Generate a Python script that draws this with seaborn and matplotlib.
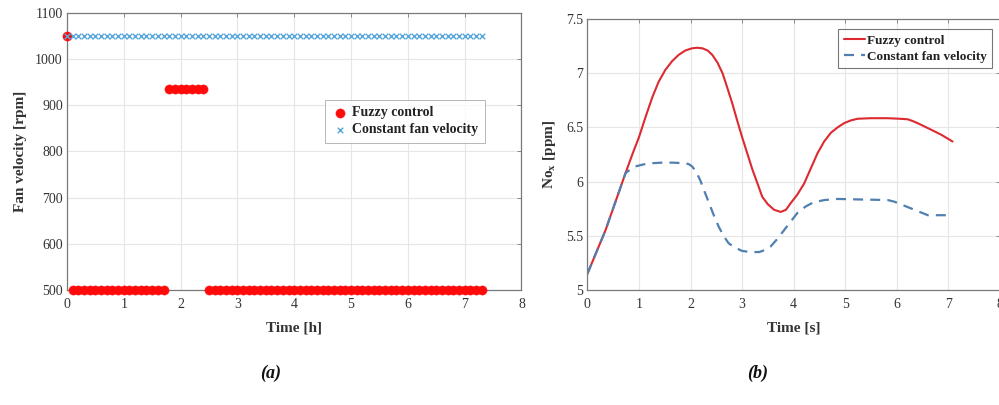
import matplotlib
matplotlib.use("Agg")
import matplotlib.pyplot as plt
import seaborn as sns
import pandas as pd

# ---------------- data ----------------
time_h = [0.0, 0.1, 0.2, 0.3, 0.4, 0.5, 0.6, 0.7, 0.8, 0.9,
          1.0, 1.1, 1.2, 1.3, 1.4, 1.5, 1.6, 1.7, 1.8, 1.9,
          2.0, 2.1, 2.2, 2.3, 2.4, 2.5, 2.6, 2.7, 2.8, 2.9,
          3.0, 3.1, 3.2, 3.3, 3.4, 3.5, 3.6, 3.7, 3.8, 3.9,
          4.0, 4.1, 4.2, 4.3, 4.4, 4.5, 4.6, 4.7, 4.8, 4.9,
          5.0, 5.1, 5.2, 5.3, 5.4, 5.5, 5.6, 5.7, 5.8, 5.9,
          6.0, 6.1, 6.2, 6.3, 6.4, 6.5, 6.6, 6.7, 6.8, 6.9,
          7.0, 7.1, 7.2, 7.3]
fuzzy_rpm = [1050] + [500] * 17 + [935] * 7 + [500] * 49
constant_rpm = [1050] * 74

nox_t_fuzzy = [0.0, 0.35, 0.74, 0.87, 1.0, 1.13, 1.26, 1.38, 1.51, 1.64,
               1.77, 1.9, 2.03, 2.13, 2.23, 2.33, 2.42, 2.52, 2.62, 2.71,
               2.81, 2.9, 3.0, 3.1, 3.2, 3.3, 3.39, 3.5, 3.62, 3.75,
               3.85, 3.94, 4.07, 4.2, 4.33, 4.46, 4.59, 4.72, 4.85, 4.98,
               5.11, 5.24, 5.5, 5.82, 6.05, 6.21, 6.3, 6.4, 6.53, 6.66,
               6.87, 7.08]
nox_fuzzy = [5.15, 5.55, 6.08, 6.25, 6.41, 6.60, 6.78, 6.92, 7.03, 7.11,
             7.17, 7.21, 7.23, 7.235, 7.23, 7.21, 7.17, 7.10, 7.00, 6.87,
             6.72, 6.57, 6.41, 6.26, 6.11, 5.98, 5.86, 5.79, 5.74, 5.72,
             5.74, 5.80, 5.88, 5.98, 6.12, 6.26, 6.37, 6.45, 6.50, 6.54,
             6.565, 6.58, 6.585, 6.585, 6.58, 6.575, 6.56, 6.54, 6.51, 6.48,
             6.43, 6.37]

nox_t_const = [0.0, 0.35, 0.74, 0.83, 0.93, 1.1, 1.26, 1.45, 1.64, 1.9,
               1.97, 2.03, 2.11, 2.19, 2.27, 2.36, 2.45, 2.55, 2.64, 2.74,
               2.87, 3.0, 3.17, 3.33, 3.45, 3.55, 3.68, 3.81, 3.94, 4.07,
               4.23, 4.39, 4.6, 4.85, 5.3, 5.82, 5.95, 6.08, 6.21, 6.34,
               6.47, 6.6, 6.8, 7.08]
nox_const = [5.15, 5.55, 6.08, 6.11, 6.14, 6.16, 6.17, 6.175, 6.175, 6.17,
             6.16, 6.14, 6.09, 6.01, 5.91, 5.80, 5.69, 5.58, 5.50, 5.43,
             5.39, 5.36, 5.35, 5.35, 5.37, 5.40, 5.47, 5.55, 5.63, 5.71,
             5.77, 5.81, 5.83, 5.84, 5.835, 5.83, 5.815, 5.79, 5.765, 5.74,
             5.715, 5.69, 5.69, 5.69]

left_xticks = [0, 1, 2, 3, 4, 5, 6, 7, 8]
left_yticks = [500, 600, 700, 800, 900, 1000, 1100]
right_xticks = [0, 1, 2, 3, 4, 5, 6, 7, 8]
right_yticks = [5, 5.5, 6, 6.5, 7, 7.5]
right_yticklabels = ["5", "5.5", "6", "6.5", "7", "7.5"]

# ---------------- style ----------------
sns.set_theme(style="whitegrid")
plt.rcParams['font.family'] = ['Liberation Serif', 'DejaVu Serif']
plt.rcParams['mathtext.fontset'] = 'stix'

RED = '#ff0a0a'
LBLUE = '#5aa7dc'
LINE_RED = '#dc2a30'
DASH_BLUE = '#5080b0'
GRID = '#e6e6e6'
SPINE = '#7a7a7a'

fig = plt.figure(figsize=(9.99, 4.05), dpi=100)
ax1 = fig.add_axes([0.067, 0.284, 0.455, 0.684])
ax2 = fig.add_axes([0.588, 0.284, 0.413, 0.669])

def style_axes(ax):
    ax.set_facecolor('white')
    ax.grid(True, color=GRID, linewidth=0.8)
    for s in ax.spines.values():
        s.set_color(SPINE)
        s.set_linewidth(0.9)
        s.set_visible(True)
    ax.tick_params(direction='in', length=3, width=0.6, color=SPINE,
                   top=True, right=True, labelsize=10, pad=3,
                   labelcolor='#333333')
    ax.tick_params(axis='x', pad=6)

# ---------------- left panel ----------------
df_f = pd.DataFrame({'t': time_h, 'v': fuzzy_rpm})
df_c = pd.DataFrame({'t': time_h, 'v': constant_rpm})
sns.scatterplot(data=df_f, x='t', y='v', ax=ax1, color=RED, marker='o',
                s=44, edgecolor=RED, linewidth=0.3, label='Fuzzy control',
                zorder=3, clip_on=False)
sns.scatterplot(data=df_c, x='t', y='v', ax=ax1, color=LBLUE, marker='x',
                s=16, linewidth=1.0, label='Constant fan velocity', zorder=4,
                clip_on=False)
ax1.set_xlim(0, 8)
ax1.set_ylim(500, 1100)
ax1.set_xticks(left_xticks)
ax1.set_yticks(left_yticks)
style_axes(ax1)
ax1.set_xlabel('Time [h]', fontsize=11, fontweight='bold', color='#333333',
               labelpad=7)
ax1.set_ylabel('Fan velocity [rpm]', fontsize=11, fontweight='bold',
               color='#333333', labelpad=6)
leg1 = ax1.legend(loc='upper left', bbox_to_anchor=(0.568, 0.686),
                  fontsize=10, frameon=True, fancybox=False,
                  handletextpad=0.3, borderpad=0.45, labelspacing=0.3,
                  handlelength=1.2, borderaxespad=0)
leg1.get_frame().set_edgecolor('#999999')
leg1.get_frame().set_linewidth(0.6)
for t in leg1.get_texts():
    t.set_fontweight('bold')
    t.set_color('#222222')

# ---------------- right panel ----------------
df_nf = pd.DataFrame({'t': nox_t_fuzzy, 'v': nox_fuzzy})
df_nc = pd.DataFrame({'t': nox_t_const, 'v': nox_const})
sns.lineplot(data=df_nf, x='t', y='v', ax=ax2, color=LINE_RED, linewidth=1.5,
             label='Fuzzy control', sort=False, solid_joinstyle='round')
sns.lineplot(data=df_nc, x='t', y='v', ax=ax2, color=DASH_BLUE, linewidth=1.6,
             label='Constant fan velocity', sort=False, dashes=False)
ax2.lines[1].set_dashes([4.5, 3.2])
ax2.set_xlim(0, 8)
ax2.set_ylim(5, 7.5)
ax2.set_xticks(right_xticks)
ax2.set_yticks(right_yticks)
ax2.set_yticklabels(right_yticklabels)
style_axes(ax2)
ax2.set_xlabel('Time [s]', fontsize=11, fontweight='bold', color='#333333',
               labelpad=7)
ax2.set_ylabel(r'No$_{\mathbf{x}}$ [ppm]', fontsize=11, fontweight='bold',
               color='#333333', labelpad=6)
leg2 = ax2.legend(loc='upper right', bbox_to_anchor=(0.9816, 0.963),
                  fontsize=9.5, frameon=True, fancybox=False,
                  handletextpad=0.2, borderpad=0.4, labelspacing=0.3,
                  handlelength=1.6, borderaxespad=0)
leg2.get_frame().set_edgecolor('#555555')
leg2.get_frame().set_linewidth(0.8)
for t in leg2.get_texts():
    t.set_fontweight('bold')
    t.set_color('#222222')

# ---------------- panel captions ----------------
fig.text(0.271, 0.078, '(a)', fontsize=13, fontstyle='italic',
         fontweight='bold', ha='center', va='center', color='#111111')
fig.text(0.758, 0.078, '(b)', fontsize=13, fontstyle='italic',
         fontweight='bold', ha='center', va='center', color='#111111')

fig.savefig('out.png', dpi=100)
